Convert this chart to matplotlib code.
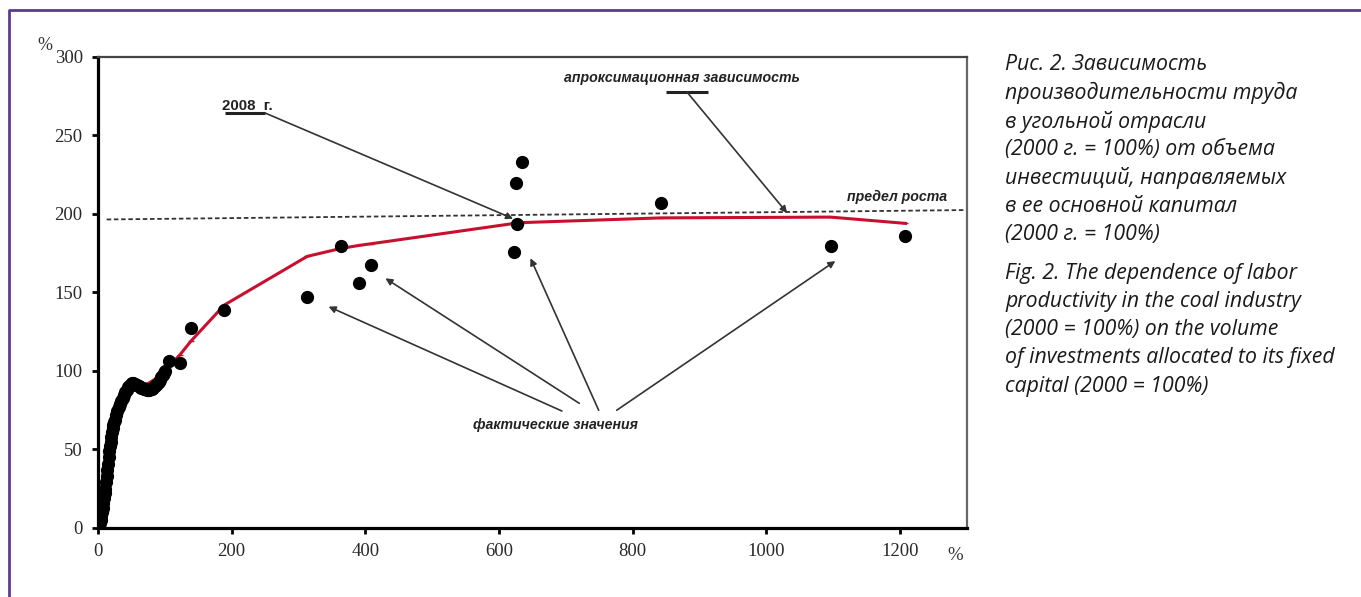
import matplotlib
matplotlib.use('Agg')
import matplotlib.pyplot as plt

# actual values (investments %, productivity %)
x_dense = [0, 1, 2, 3, 4, 5, 6, 7, 8, 9, 10, 11, 12, 13, 14, 15, 16, 17, 18, 19, 20,
           21, 22, 23, 24, 25, 27, 29, 31, 33, 35, 37, 39, 41, 43, 45, 47, 49, 51, 53,
           55, 57, 59, 61, 63, 65, 67, 69, 71, 73, 75, 77, 79, 81, 83, 85, 87, 89, 91,
           93, 95, 97, 99, 100]
y_dense = [0, 0.5, 1.5, 3, 5, 7.5, 10, 13, 16, 19, 22, 25, 29, 33, 37, 41, 45, 49, 52,
           55, 58, 61, 63.5, 65.5, 67.5, 69, 72, 74.5, 77, 79, 81, 83, 85, 86.5, 88, 89.5,
           90.5, 91.5, 92.5, 92.5, 92, 91.3, 90.8, 90.3, 89.8, 89.3, 89, 88.7, 88.4, 88.2,
           88, 88.1, 88.3, 88.8, 89.4, 90.2, 91, 92, 93.2, 94.5, 96, 97.5, 99, 100]
x_fact = [106, 122, 139, 189, 313, 363, 391, 408, 623, 625, 627, 635, 842, 1096, 1208]
y_fact = [106.4, 104.9, 127.6, 139, 147, 179.6, 156, 167.5, 175.6, 219.5, 193.6, 233, 207, 179.6, 186]

# approximation curve
x_fit = [0, 5, 10, 20, 30, 40, 50, 60, 75, 90, 106, 122, 139, 189, 313, 363, 391, 408,
         623, 627, 635, 842, 1096, 1208]
y_fit = [0, 10, 28, 60, 76, 84, 88, 90, 92, 96, 103, 110, 119, 142, 173, 178, 180, 181,
         194, 194.3, 194.5, 197.5, 198, 194]

# growth limit
x_limit = [13, 1300]
y_limit = [196.5, 202.5]

x_ticks = [0, 200, 400, 600, 800, 1000, 1200]
y_ticks = [0, 50, 100, 150, 200, 250, 300]

caption_ru = ["Рис. 2. Зависимость",
              "производительности труда",
              "в угольной отрасли",
              "(2000 г. = 100%) от объема",
              "инвестиций, направляемых",
              "в ее основной капитал",
              "(2000 г. = 100%)"]
caption_en = ["Fig. 2. The dependence of labor",
              "productivity in the coal industry",
              "(2000 = 100%) on the volume",
              "of investments allocated to its fixed",
              "capital (2000 = 100%)"]

fig = plt.figure(figsize=(13.61, 5.97), dpi=100)
ax = fig.add_axes([0.072, 0.1156, 0.6385, 0.789])

ax.plot(x_limit, y_limit, color='#333333', lw=1.3, linestyle=(0, (2.5, 1.5)), zorder=2)
ax.plot(x_fit, y_fit, color='#c8102e', lw=2.2, marker='_', ms=4, zorder=3)
ax.plot(x_dense, y_dense, 'o', color='black', ms=8.5, zorder=4)
ax.plot(x_fact, y_fact, 'o', color='black', ms=8.5, zorder=4)

ax.set_xlim(0, 1300)
ax.set_ylim(0, 300)
ax.set_xticks(x_ticks)
ax.set_yticks(y_ticks)
ax.tick_params(direction='out', length=4, width=2, labelsize=13.5, pad=7, labelcolor='#2a2a2a')
for lab in ax.get_xticklabels() + ax.get_yticklabels():
    lab.set_family('Liberation Serif')

ax.spines['left'].set_linewidth(2.3)
ax.spines['bottom'].set_linewidth(2.3)
ax.spines['top'].set_linewidth(1.6)
ax.spines['top'].set_color('#444444')
ax.spines['right'].set_linewidth(1.6)
ax.spines['right'].set_color('#666666')

arrow = dict(arrowstyle='-|>', color='#333333', lw=1.2, mutation_scale=10, shrinkA=0, shrinkB=0)
label_font = dict(family='Liberation Sans', style='italic', weight='bold', size=10.2, color='#222222')

# 2008
ax.text(186, 269, '2008  г.', ha='left', va='center', family='Liberation Sans',
        weight='bold', size=10.8, color='#222222')
ax.plot([190, 250], [264.3, 264.3], color='#222222', lw=2.2, solid_capstyle='butt')
ax.annotate('', xy=(621, 197), xytext=(250, 264.3), arrowprops=arrow)

# approximation
ax.text(873, 286.6, 'апроксимационная зависимость', ha='center', va='center', **label_font)
ax.plot([849, 913], [277.9, 277.9], color='#222222', lw=2.2, solid_capstyle='butt')
ax.annotate('', xy=(1031, 200.6), xytext=(881, 277.7), arrowprops=arrow)

# limit
ax.text(1195, 211, 'предел роста', ha='center', va='center', **label_font)

# actual values
ax.text(684, 65.6, 'фактические значения', ha='center', va='center', **label_font)
for xy, xt in [((345, 141), (694, 74.5)), ((430, 159), (720, 79.4)),
               ((647, 171.8), (749, 75)), ((1103, 170), (776, 75))]:
    ax.annotate('', xy=xy, xytext=xt, arrowprops=arrow)

fig.text(45 / 1361, 1 - 45 / 597, '%', family='Liberation Serif', size=13,
         color='#333333', ha='center', va='center')
fig.text(955 / 1361, 1 - 556 / 597, '%', family='Liberation Serif', size=13.5,
         color='#333333', ha='center', va='center')

dy = 28.3 / 597
for i, line in enumerate(caption_ru):
    fig.text(1005 / 1361, 1 - 65 / 597 - i * dy, line, family='Open Sans', style='italic',
             size=15.3, color='#1a1a1a', ha='left', va='center')
for i, line in enumerate(caption_en):
    fig.text(1005 / 1361, 1 - 273 / 597 - i * dy, line, family='Open Sans', style='italic',
             size=15.3, color='#1a1a1a', ha='left', va='center')

# purple frame
fig.add_artist(plt.Line2D([9 / 1361, 9 / 1361, 1], [0, 1 - 10 / 597, 1 - 10 / 597],
                          transform=fig.transFigure, color='#5b3a93', lw=2))

fig.savefig('out.png', dpi=100)
